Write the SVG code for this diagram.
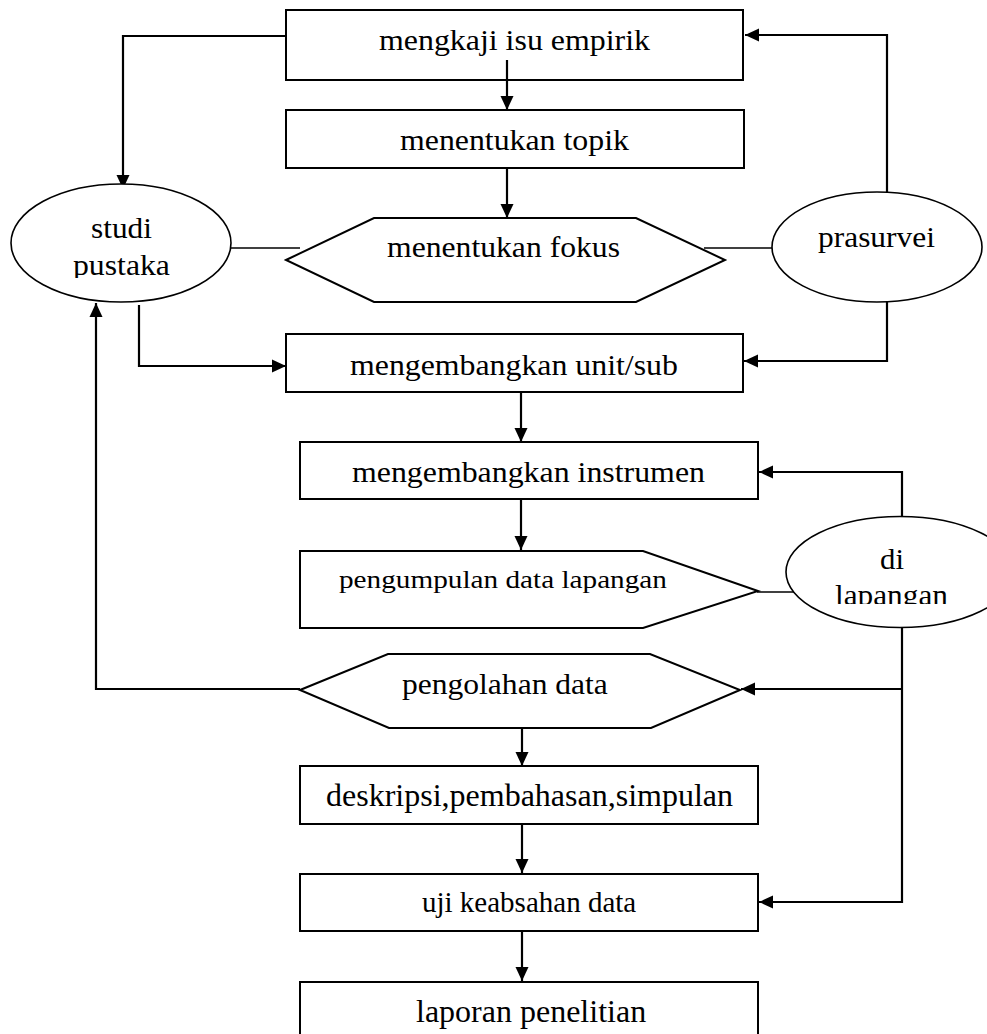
<svg xmlns="http://www.w3.org/2000/svg" width="987" height="1034" viewBox="0 0 987 1034">
  <style>
    .shape { fill: #ffffff; stroke: #000000; stroke-width: 2; }
    .oval { fill: #ffffff; stroke: #000000; stroke-width: 1.6; }
    .lbl { font-family: "Liberation Serif", "Times New Roman", serif; fill: #000000; }
    .conn { fill: none; stroke: #000000; stroke-width: 2.2; }
    .thin { fill: none; stroke: #000000; stroke-width: 1.6; }
  </style>
  <defs>
    <marker id="arrow" markerUnits="userSpaceOnUse" markerWidth="14" markerHeight="14" viewBox="0 0 14 14" refX="14" refY="7" orient="auto">
      <path d="M0,0.5 L14,7 L0,13.5 Z" fill="#000000"/>
    </marker>
    <clipPath id="clipStudi"><rect x="0" y="0" width="300" height="278"/></clipPath>
    <clipPath id="clipDi"><rect x="760" y="500" width="227" height="104"/></clipPath>
  </defs>
  <rect x="0" y="0" width="987" height="1034" fill="#ffffff"/>

  <g id="connectors">
    <polyline class="conn" points="286,36 123,36 123,189" marker-end="url(#arrow)"/>
    <polyline class="conn" points="887,192 887,35 745,35" marker-end="url(#arrow)"/>
    <line class="conn" x1="507" y1="60" x2="507" y2="110" marker-end="url(#arrow)"/>
    <line class="conn" x1="507" y1="168" x2="507" y2="218" marker-end="url(#arrow)"/>
    <line class="thin" x1="231" y1="248" x2="300" y2="248"/>
    <line class="thin" x1="704" y1="248" x2="772" y2="248"/>
    <polyline class="conn" points="139,305 139,366 286,366" marker-end="url(#arrow)"/>
    <polyline class="conn" points="887,302 887,361 744,361" marker-end="url(#arrow)"/>
    <polyline class="conn" points="300,689 96,689 96,303" marker-end="url(#arrow)"/>
    <line class="conn" x1="521" y1="392" x2="521" y2="442" marker-end="url(#arrow)"/>
    <line class="conn" x1="521" y1="499" x2="521" y2="550" marker-end="url(#arrow)"/>
    <polyline class="conn" points="902,518 902,472 759,472" marker-end="url(#arrow)"/>
    <line class="thin" x1="757" y1="592" x2="800" y2="592"/>
    <polyline class="conn" points="902,628 902,902 759,902" marker-end="url(#arrow)"/>
    <line class="conn" x1="902" y1="689" x2="741" y2="689" marker-end="url(#arrow)"/>
    <line class="conn" x1="522" y1="717" x2="522" y2="766" marker-end="url(#arrow)"/>
    <line class="conn" x1="522" y1="824" x2="522" y2="873" marker-end="url(#arrow)"/>
    <line class="conn" x1="522" y1="931" x2="522" y2="981" marker-end="url(#arrow)"/>
  </g>

  <g id="node-mengkaji">
    <rect class="shape" x="286" y="10" width="457" height="70" fill-opacity="0"/>
    <text class="lbl" transform="translate(379,50) scale(1.100,1)" font-size="29">mengkaji isu empirik</text>
  </g>
  <g id="node-topik">
    <rect class="shape" x="286" y="110" width="458" height="58"/>
    <text class="lbl" transform="translate(400,150) scale(1.098,1)" font-size="29">menentukan topik</text>
  </g>
  <g id="node-fokus">
    <polygon class="shape" points="286,260 374,218 636,218 725,260 636,302 374,302"/>
    <text class="lbl" transform="translate(387,257) scale(1.092,1)" font-size="29">menentukan fokus</text>
  </g>
  <g id="node-studi">
    <ellipse class="oval" cx="121" cy="243" rx="110" ry="59"/>
    <g clip-path="url(#clipStudi)">
      <text class="lbl" transform="translate(91,238) scale(1.081,1)" font-size="29">studi</text>
      <text class="lbl" transform="translate(73,275) scale(1.095,1)" font-size="29">pustaka</text>
    </g>
  </g>
  <g id="node-prasurvei">
    <ellipse class="oval" cx="877" cy="247" rx="105" ry="55"/>
    <text class="lbl" transform="translate(818,247) scale(1.084,1)" font-size="29">prasurvei</text>
  </g>
  <g id="node-unit">
    <rect class="shape" x="286" y="334" width="457" height="58"/>
    <text class="lbl" transform="translate(350,375) scale(1.098,1)" font-size="29">mengembangkan unit/sub</text>
  </g>
  <g id="node-instrumen">
    <rect class="shape" x="300" y="442" width="458" height="57"/>
    <text class="lbl" transform="translate(352,482) scale(1.099,1)" font-size="29">mengembangkan instrumen</text>
  </g>
  <g id="node-pengumpulan">
    <polygon class="shape" points="300,551 643,551 758,591 643,628 300,628"/>
    <text class="lbl" transform="translate(339,588) scale(1.125,1)" font-size="26">pengumpulan data lapangan</text>
  </g>
  <g id="node-dilapangan">
    <ellipse class="oval" cx="900" cy="572" rx="114" ry="55.5"/>
    <g clip-path="url(#clipDi)">
      <text class="lbl" transform="translate(880,569) scale(1.062,1)" font-size="29">di</text>
      <text class="lbl" transform="translate(835,605) scale(1.079,1)" font-size="29">lapangan</text>
    </g>
  </g>
  <g id="node-pengolahan">
    <polygon class="shape" points="300,690 388,654 650,654 740,690 651,728 389,728"/>
    <text class="lbl" transform="translate(402,694) scale(1.088,1)" font-size="29">pengolahan data</text>
  </g>
  <g id="node-deskripsi">
    <rect class="shape" x="300" y="766" width="458" height="58"/>
    <text class="lbl" x="326" y="806" font-size="32">deskripsi,pembahasan,simpulan</text>
  </g>
  <g id="node-uji">
    <rect class="shape" x="300" y="874" width="458" height="57"/>
    <text class="lbl" x="422" y="912" font-size="29">uji keabsahan data</text>
  </g>
  <g id="node-laporan">
    <rect class="shape" x="300" y="982" width="458" height="70"/>
    <text class="lbl" x="416" y="1022" font-size="32">laporan penelitian</text>
  </g>
</svg>
